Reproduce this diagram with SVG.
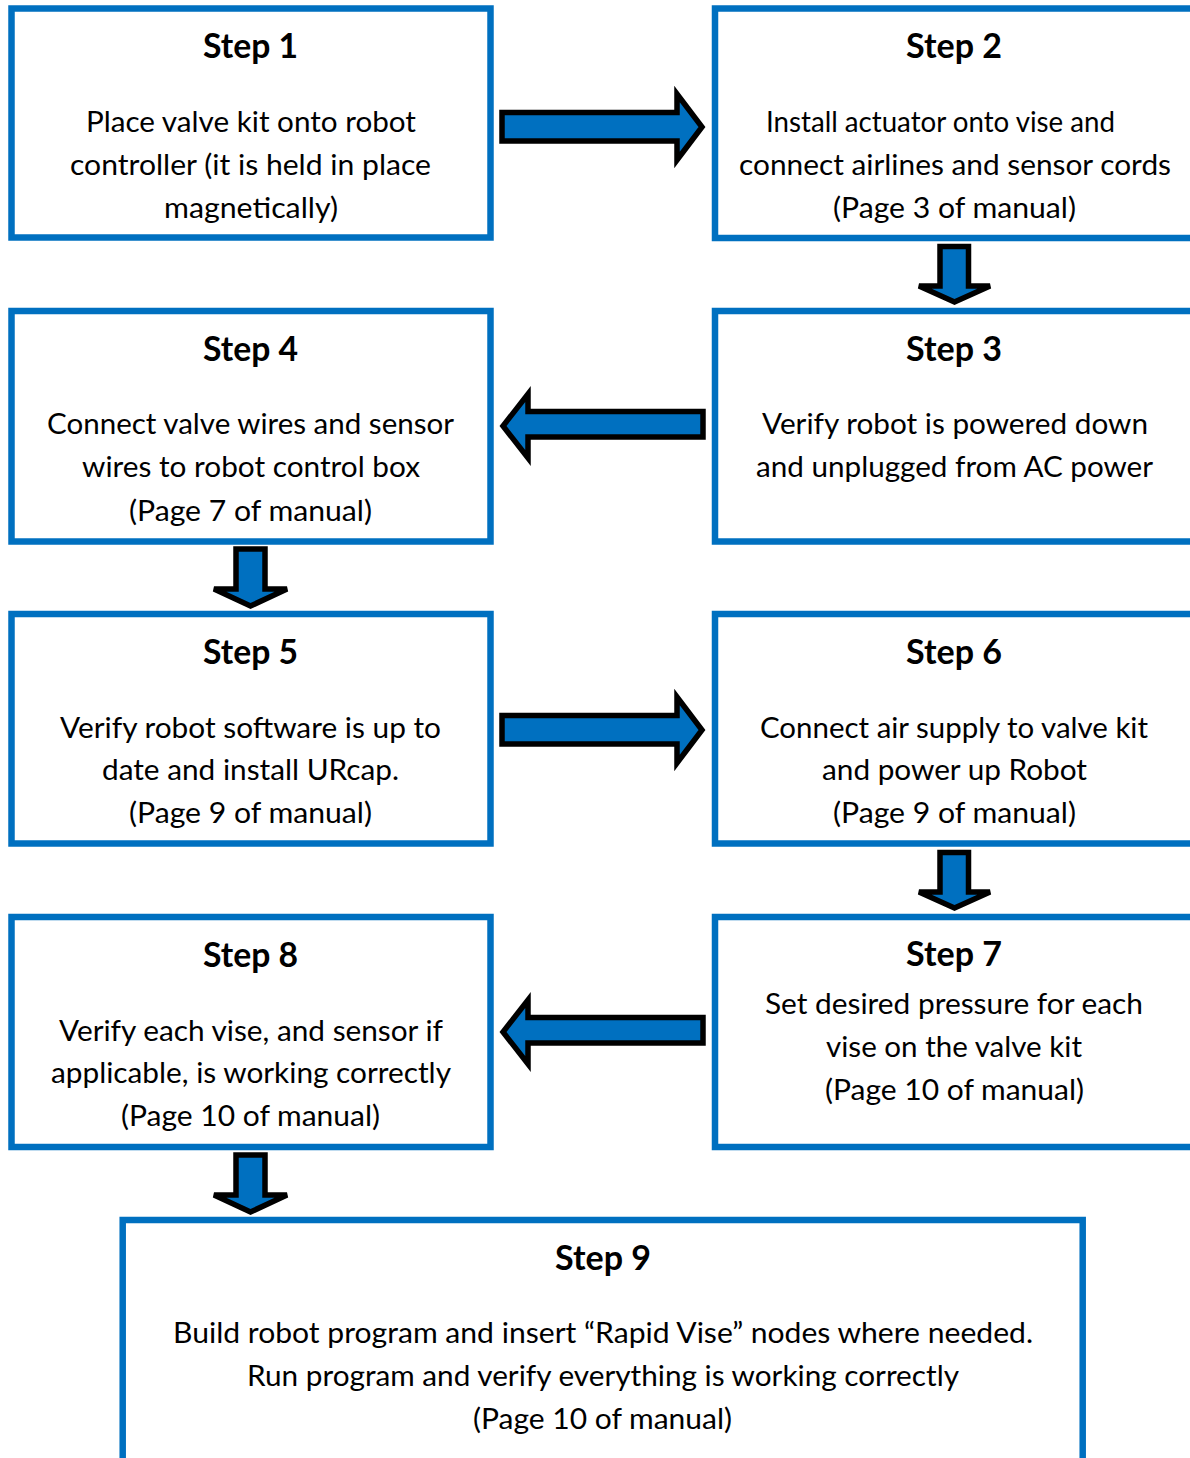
<svg xmlns="http://www.w3.org/2000/svg" width="1190" height="1458" viewBox="0 0 1190 1458">
<style>
.box{fill:#FFFFFF;stroke:#0070C0;stroke-width:6.5}
.arrow{fill:#0070C0;stroke:#000000;stroke-width:5.5;stroke-linejoin:miter}
.t{font-family:Lato,"Open Sans","Liberation Sans",sans-serif;font-weight:700;font-size:34px;fill:#000}
.b{font-family:Lato,"Open Sans","Liberation Sans",sans-serif;font-size:29.5px;fill:#000}
</style>
<rect width="1190" height="1458" fill="#FFFFFF"/>
<g id="connectors">
  <polygon class="arrow" points="502,112.5 677,112.5 677,94 702,127 677,160 677,141 502,141"/>
  <polygon class="arrow" points="940,246.5 968.5,246.5 968.5,286 990,286 954.5,302 919,286 940,286"/>
  <polygon class="arrow" points="703,411.5 528,411.5 528,394 503,426 528,458 528,437 703,437"/>
  <polygon class="arrow" points="236,549 265,549 265,589 287,589 250.5,606 214,589 236,589"/>
  <polygon class="arrow" points="502,715.5 677,715.5 677,697 702,730 677,763 677,744 502,744"/>
  <polygon class="arrow" points="940,852.5 968.5,852.5 968.5,892 990,892 954.5,908 919,892 940,892"/>
  <polygon class="arrow" points="703,1017.5 528,1017.5 528,1000 503,1032 528,1064 528,1043 703,1043"/>
  <polygon class="arrow" points="236,1155 265,1155 265,1195 287,1195 250.5,1212 214,1195 236,1195"/>
</g>
<g id="step1">
  <rect class="box" x="11.5" y="8.5" width="479" height="229"/>
  <text class="t" x="203" y="58" textLength="95" lengthAdjust="spacingAndGlyphs">Step 1</text>
  <text class="b" x="86" y="132" textLength="330" lengthAdjust="spacingAndGlyphs">Place valve kit onto robot</text>
  <text class="b" x="70" y="175" textLength="361" lengthAdjust="spacingAndGlyphs">controller (it is held in place</text>
  <text class="b" x="164" y="218" textLength="174" lengthAdjust="spacingAndGlyphs">magnetically)</text>
</g>
<g id="step2">
  <rect class="box" x="715" y="8.5" width="490" height="229.5"/>
  <text class="t" x="906" y="58" textLength="96" lengthAdjust="spacingAndGlyphs">Step 2</text>
  <text class="b" x="766" y="132" textLength="349" lengthAdjust="spacingAndGlyphs">Install actuator onto vise and</text>
  <text class="b" x="739" y="175" textLength="432" lengthAdjust="spacingAndGlyphs">connect airlines and sensor cords</text>
  <text class="b" x="833" y="218" textLength="243" lengthAdjust="spacingAndGlyphs">(Page 3 of manual)</text>
</g>
<g id="step3">
  <rect class="box" x="715" y="311" width="490" height="230.5"/>
  <text class="t" x="906" y="361" textLength="96" lengthAdjust="spacingAndGlyphs">Step 3</text>
  <text class="b" x="762" y="434" textLength="386" lengthAdjust="spacingAndGlyphs">Verify robot is powered down</text>
  <text class="b" x="756" y="477" textLength="397" lengthAdjust="spacingAndGlyphs">and unplugged from AC power</text>
</g>
<g id="step4">
  <rect class="box" x="11.5" y="311" width="479" height="230.5"/>
  <text class="t" x="203" y="361" textLength="95" lengthAdjust="spacingAndGlyphs">Step 4</text>
  <text class="b" x="47" y="434" textLength="407" lengthAdjust="spacingAndGlyphs">Connect valve wires and sensor</text>
  <text class="b" x="82" y="477" textLength="338" lengthAdjust="spacingAndGlyphs">wires to robot control box</text>
  <text class="b" x="129" y="521" textLength="243" lengthAdjust="spacingAndGlyphs">(Page 7 of manual)</text>
</g>
<g id="step5">
  <rect class="box" x="11.5" y="614" width="479" height="229.5"/>
  <text class="t" x="203" y="664" textLength="95" lengthAdjust="spacingAndGlyphs">Step 5</text>
  <text class="b" x="60" y="738" textLength="381" lengthAdjust="spacingAndGlyphs">Verify robot software is up to</text>
  <text class="b" x="102" y="780" textLength="297" lengthAdjust="spacingAndGlyphs">date and install URcap.</text>
  <text class="b" x="129" y="823" textLength="243" lengthAdjust="spacingAndGlyphs">(Page 9 of manual)</text>
</g>
<g id="step6">
  <rect class="box" x="715" y="614" width="490" height="229.5"/>
  <text class="t" x="906" y="664" textLength="96" lengthAdjust="spacingAndGlyphs">Step 6</text>
  <text class="b" x="760" y="738" textLength="388" lengthAdjust="spacingAndGlyphs">Connect air supply to valve kit</text>
  <text class="b" x="822" y="780" textLength="265" lengthAdjust="spacingAndGlyphs">and power up Robot</text>
  <text class="b" x="833" y="823" textLength="243" lengthAdjust="spacingAndGlyphs">(Page 9 of manual)</text>
</g>
<g id="step7">
  <rect class="box" x="715" y="917" width="490" height="230"/>
  <text class="t" x="906" y="966" textLength="96" lengthAdjust="spacingAndGlyphs">Step 7</text>
  <text class="b" x="765" y="1014" textLength="378" lengthAdjust="spacingAndGlyphs">Set desired pressure for each</text>
  <text class="b" x="826" y="1057" textLength="256" lengthAdjust="spacingAndGlyphs">vise on the valve kit</text>
  <text class="b" x="825" y="1100" textLength="259" lengthAdjust="spacingAndGlyphs">(Page 10 of manual)</text>
</g>
<g id="step8">
  <rect class="box" x="11.5" y="917" width="479" height="230"/>
  <text class="t" x="203" y="967" textLength="95" lengthAdjust="spacingAndGlyphs">Step 8</text>
  <text class="b" x="59" y="1041" textLength="384" lengthAdjust="spacingAndGlyphs">Verify each vise, and sensor if</text>
  <text class="b" x="51" y="1083" textLength="400" lengthAdjust="spacingAndGlyphs">applicable, is working correctly</text>
  <text class="b" x="121" y="1126" textLength="259" lengthAdjust="spacingAndGlyphs">(Page 10 of manual)</text>
</g>
<g id="step9">
  <rect class="box" x="122.7" y="1220" width="960" height="260"/>
  <text class="t" x="555" y="1270" textLength="96" lengthAdjust="spacingAndGlyphs">Step 9</text>
  <text class="b" x="173" y="1343" textLength="860" lengthAdjust="spacingAndGlyphs">Build robot program and insert “Rapid Vise” nodes where needed.</text>
  <text class="b" x="247" y="1386" textLength="712" lengthAdjust="spacingAndGlyphs">Run program and verify everything is working correctly</text>
  <text class="b" x="473" y="1429" textLength="259" lengthAdjust="spacingAndGlyphs">(Page 10 of manual)</text>
</g>
</svg>
